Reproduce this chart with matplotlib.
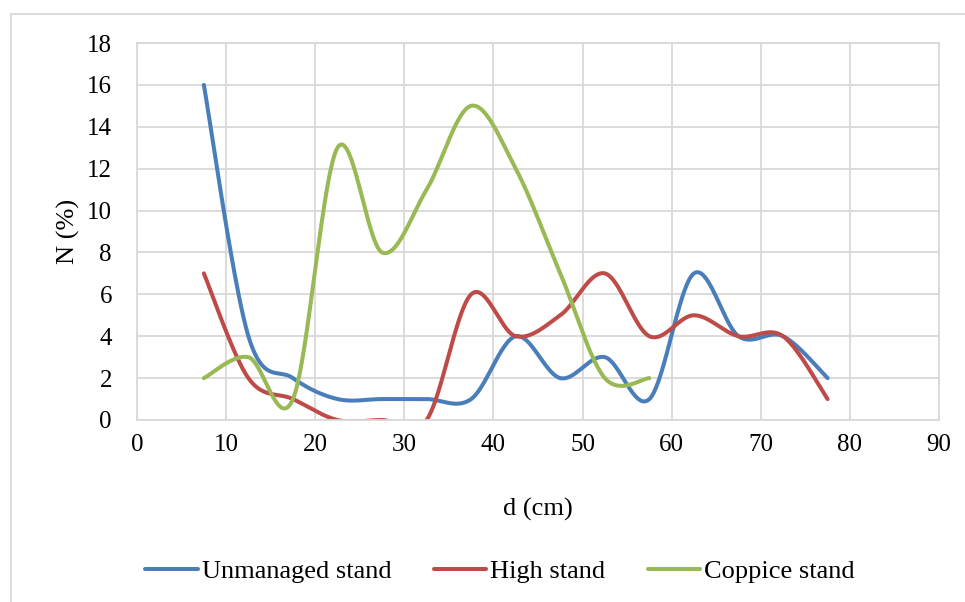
import numpy as np
import matplotlib
matplotlib.use("Agg")
import matplotlib.pyplot as plt
from matplotlib.patches import Rectangle

d_all = [7.5, 12.5, 17.5, 22.5, 27.5, 32.5, 37.5, 42.5, 47.5, 52.5, 57.5, 62.5, 67.5, 72.5, 77.5]
unmanaged = [16, 4, 2, 1, 1, 1, 1, 4, 2, 3, 1, 7, 4, 4, 2]
high = [7, 2, 1, 0, 0, 0, 6, 4, 5, 7, 4, 5, 4, 4, 1]
d_coppice = [7.5, 12.5, 17.5, 22.5, 27.5, 32.5, 37.5, 42.5, 47.5, 52.5, 57.5]
coppice = [2, 3, 1, 13, 8, 11, 15, 12, 7, 2, 2]

x_ticks = list(range(0, 91, 10))
y_ticks = list(range(0, 19, 2))


def smooth(xs, ys, n=40):
    xs = np.asarray(xs, float)
    ys = np.asarray(ys, float)
    P = np.column_stack([xs, ys])
    Pe = np.vstack([P[0], P, P[-1]])
    out = []
    t = np.linspace(0, 1, n)[:, None]
    for i in range(len(P) - 1):
        p0, p1, p2, p3 = Pe[i], Pe[i + 1], Pe[i + 2], Pe[i + 3]
        c1 = p1 + (p2 - p0) / 6.0
        c2 = p2 - (p3 - p1) / 6.0
        seg = ((1 - t) ** 3) * p1 + 3 * ((1 - t) ** 2) * t * c1 + 3 * (1 - t) * t ** 2 * c2 + t ** 3 * p2
        out.append(seg if i == 0 else seg[1:])
    out = np.vstack(out)
    return out[:, 0], out[:, 1]


plt.rcParams['font.family'] = ['Liberation Serif', 'DejaVu Serif']

fig = plt.figure(figsize=(9.65, 6.02), dpi=100)
W, H = 965, 602
ax = fig.add_axes([137 / W, 1 - 420 / H, (939 - 137) / W, (420 - 43) / H])

# outer chart frame
fig.patches.append(Rectangle((11 / W, -0.1), 1.2, 1 - 14 / H + 0.1, transform=fig.transFigure,
                             fill=False, edgecolor='#d9d9d9', linewidth=1.3, zorder=0))

colors = {'u': '#4a7ebb', 'h': '#be4b48', 'c': '#98b954'}
for xs, ys, c, lab in [(d_all, unmanaged, colors['u'], 'Unmanaged stand'),
                       (d_all, high, colors['h'], 'High stand'),
                       (d_coppice, coppice, colors['c'], 'Coppice stand')]:
    sx, sy = smooth(xs, ys)
    ax.plot(sx, sy, color=c, linewidth=2.9, label=lab, solid_capstyle='round')

ax.set_xlim(0, 90)
ax.set_ylim(0, 18)
ax.set_xticks(x_ticks)
ax.set_yticks(y_ticks)
ax.grid(True, color='#d9d9d9', linewidth=1.3)
ax.set_axisbelow(True)
for s in ax.spines.values():
    s.set_color('#d9d9d9')
    s.set_linewidth(1.3)
ax.tick_params(length=0, labelsize=18, colors='black')
ax.tick_params(axis='y', pad=18)
ax.tick_params(axis='x', pad=10)
ax.set_xlabel('d (cm)', fontsize=19, labelpad=30)
ax.set_ylabel('N (%)', fontsize=19)
ax.yaxis.set_label_coords((80 - 137) / 802, 0.5)

ax.legend(loc='center', bbox_to_anchor=((500 - 137) / 802, (420 - 571) / 377), ncol=3, frameon=False,
          fontsize=19, handlelength=2.0, handletextpad=0.15, columnspacing=1.6)

fig.savefig('out.png', dpi=100)
